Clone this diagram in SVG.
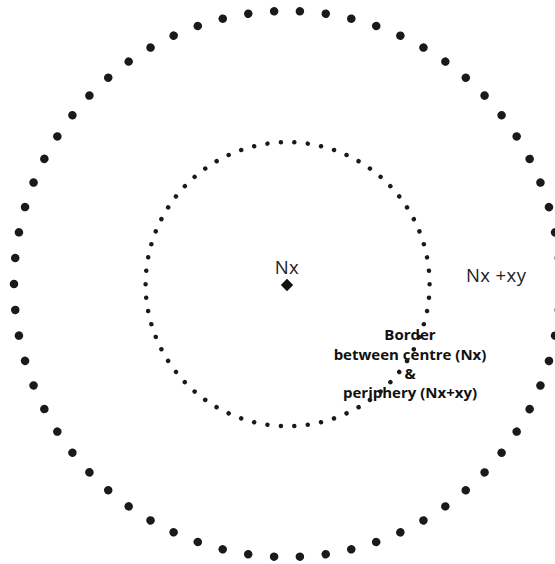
<svg xmlns="http://www.w3.org/2000/svg" width="555" height="564" viewBox="0 0 555 564">
<style>
.lbl{font-family:"Open Sans","Noto Sans","Liberation Sans",sans-serif;font-size:18.5px;fill:#222;letter-spacing:0.4px}
.brd{font-family:"Open Sans","Noto Sans","Liberation Sans",sans-serif;font-size:15px;font-weight:700;fill:#111;text-anchor:middle}
.dots{fill:none;stroke:#1a1a1a;stroke-linecap:round}
</style>
<rect width="555" height="564" fill="#fff"/>
<g id="centre">
<text class="lbl" x="287" y="274" text-anchor="middle">Nx</text>
<polygon points="287,278.8 293.2,285 287,291.2 280.8,285" fill="#111"/>
</g>
<g id="periphery-label">
<text class="lbl" x="466" y="282">Nx +xy</text>
</g>
<g id="border-label">
<text class="brd" x="410" y="340">Border</text>
<text class="brd" x="410" y="360">between centre (Nx)</text>
<text class="brd" x="410" y="379">&amp;</text>
<text class="brd" x="410" y="398">periphery (Nx+xy)</text>
</g>
<g id="outer-circle">
<circle class="dots" cx="287" cy="284" r="273" pathLength="66" stroke-width="8.5" stroke-dasharray="0.001 0.999"/>
</g>
<g id="inner-circle">
<circle class="dots" cx="287.6" cy="284.2" r="142" pathLength="66" stroke-width="4.5" stroke-dasharray="0.001 0.999"/>
</g>
</svg>
